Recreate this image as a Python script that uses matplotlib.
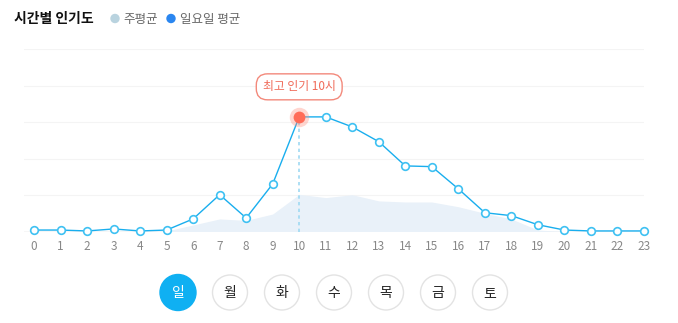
import matplotlib.pyplot as plt
from matplotlib.patches import Circle

plt.rcParams['font.family'] = ['Noto Sans CJK KR', 'DejaVu Sans']

hours = list(range(24))
sunday_avg = [0.8, 0.8, 0.3, 1.4, 0.3, 0.8, 6.9, 20.2, 7.4, 26.1, 62.9, 62.9,
              57.4, 49.3, 36.0, 35.6, 23.4, 10.3, 8.7, 3.7, 0.8, 0.3, 0.3, 0.3]
weekly_avg = [0, 0, 0, 0, 0, 0.3, 3.6, 6.9, 6.1, 9.6, 20.4, 18.6,
              20.2, 16.8, 16.2, 16.2, 13.6, 10.0, 6.9, 0.8, 0, 0, 0, 0]
days = ["일", "월", "화", "수", "목", "금", "토"]
selected_day = 0
peak_label = "최고 인기 10시"

W, H = 678, 323
fig = plt.figure(figsize=(W / 100, H / 100), dpi=100)

# overlay in pixel coordinates for title, legend and day buttons
ov = fig.add_axes([0, 0, 1, 1])
ov.set_xlim(0, W)
ov.set_ylim(H, 0)
ov.axis("off")

ov.text(14, 19, "시간별 인기도", fontsize=10, fontweight="bold", color="#111111", va="center")
ov.add_patch(Circle((115, 18.5), 4, color="#b9d3df"))
ov.text(123, 19, "주평균", fontsize=9, color="#666666", va="center")
ov.add_patch(Circle((171, 18.5), 4, color="#2a86f0"))
ov.text(180, 19, "일요일 평균", fontsize=9, color="#666666", va="center")

for i, d in enumerate(days):
    cx = 178 + i * 52
    if i == selected_day:
        ov.add_patch(Circle((cx, 292.5), 18, facecolor="#0fb0f2", edgecolor="#0fb0f2"))
        ov.text(cx, 293, d, ha="center", va="center", fontsize=10, color="white")
    else:
        ov.add_patch(Circle((cx, 292.5), 17.5, facecolor="white", edgecolor="#e3e3e3", lw=1))
        ov.text(cx, 293, d, ha="center", va="center", fontsize=10, color="#222222")

# main chart
ax = fig.add_axes([24 / W, 1 - 231.5 / H, 620 / W, (231.5 - 49.3) / H])
ax.set_xlim(-10 / 26.52, 23)
ax.set_ylim(0, 100)
for s in ax.spines.values():
    s.set_visible(False)
for g in [20, 40, 60, 80, 100]:
    ax.axhline(g, color="#f4f4f4", lw=0.8, zorder=0)
ax.axhline(0, color="#d6d6d6", lw=1, zorder=1)

ax.fill_between(hours, weekly_avg, 0, color="#e9f1f9", lw=0, zorder=1)

peak = sunday_avg.index(max(sunday_avg))
ax.plot([hours[peak], hours[peak]], [0, sunday_avg[peak]], color="#9fd9f2",
        lw=1.2, ls=(0, (2, 2)), zorder=2)

ax.plot(hours, sunday_avg, color="#19aeee", lw=1, marker="o", markersize=5.5,
        markerfacecolor="white", markeredgecolor="#3fc1f2", markeredgewidth=1.2,
        zorder=3, clip_on=False)

ax.plot(hours[peak], sunday_avg[peak], "o", color="#ff8a7a", alpha=0.35,
        markersize=14, markeredgewidth=0, zorder=4)
ax.plot(hours[peak], sunday_avg[peak], "o", color="#ff6b57",
        markersize=8.5, markeredgewidth=0, zorder=5)

ax.text(hours[peak], 79.4, peak_label, ha="center", va="center", fontsize=8.5,
        color="#f06a58", zorder=6,
        bbox=dict(boxstyle="round,pad=0.55,rounding_size=0.95", facecolor="white",
                  edgecolor="#f3897b", lw=1))

ax.set_xticks(hours)
ax.set_xticklabels([str(h) for h in hours])
ax.tick_params(axis="x", length=0, pad=6, labelsize=8.5, labelcolor="#888888")
ax.set_yticks([])
ax.patch.set_visible(False)

plt.savefig("out.png", dpi=100)
